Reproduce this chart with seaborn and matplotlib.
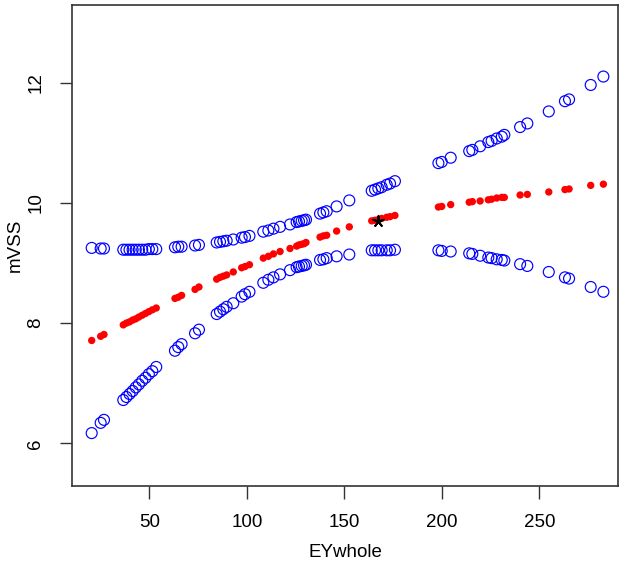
import numpy as np
import pandas as pd
import seaborn as sns
import matplotlib.pyplot as plt

# values
ey = [20.4, 25.0, 26.7, 36.6, 38.2, 39.8, 41.4, 43.0, 44.6, 46.3, 48.0, 49.7,
      51.5, 53.5, 63.1, 64.8, 66.5, 73.4, 75.4, 84.5, 86.2, 87.9, 89.6, 93.0,
      97.3, 99.0, 101.3, 108.4, 111.0, 113.6, 117.0, 122.1, 125.5, 126.7, 128.1,
      129.3, 130.3, 137.5, 139.2, 140.9, 146.0, 152.5, 164.0, 165.7, 167.4,
      169.1, 171.7, 173.4, 175.9, 198.2, 199.9, 204.5, 214.0, 215.6, 219.6,
      223.8, 225.5, 228.1, 230.7, 232.0, 240.1, 243.8, 254.8, 263.1, 265.2,
      276.3, 282.8]
lower = [6.17, 6.34, 6.39, 6.72, 6.77, 6.82, 6.87, 6.93, 6.98, 7.04, 7.09, 7.15,
         7.20, 7.27, 7.54, 7.60, 7.65, 7.83, 7.89, 8.15, 8.19, 8.23, 8.27, 8.33,
         8.44, 8.48, 8.52, 8.67, 8.72, 8.76, 8.81, 8.88, 8.93, 8.94, 8.95,
         8.96, 8.97, 9.05, 9.06, 9.08, 9.11, 9.14, 9.21, 9.21, 9.21,
         9.21, 9.21, 9.21, 9.22, 9.21, 9.20, 9.19, 9.16, 9.15, 9.12,
         9.09, 9.08, 9.06, 9.05, 9.04, 8.98, 8.95, 8.85, 8.76, 8.74,
         8.60, 8.52]
fit = [7.71, 7.78, 7.81, 7.97, 8.00, 8.02, 8.05, 8.07, 8.10, 8.13, 8.16, 8.19,
       8.22, 8.25, 8.41, 8.43, 8.46, 8.56, 8.60, 8.73, 8.76, 8.78, 8.80, 8.85,
       8.92, 8.94, 8.97, 9.08, 9.11, 9.15, 9.19, 9.24, 9.28, 9.30, 9.31,
       9.32, 9.34, 9.43, 9.45, 9.46, 9.53, 9.60, 9.70, 9.71, 9.72,
       9.74, 9.76, 9.77, 9.79, 9.93, 9.94, 9.97, 10.01, 10.02, 10.03,
       10.05, 10.06, 10.08, 10.09, 10.09, 10.13, 10.14, 10.18, 10.22, 10.23,
       10.29, 10.31]
upper = [9.25, 9.24, 9.24, 9.22, 9.22, 9.22, 9.22, 9.22, 9.22, 9.22, 9.22, 9.23,
         9.23, 9.23, 9.26, 9.27, 9.27, 9.29, 9.30, 9.34, 9.35, 9.36, 9.37, 9.39,
         9.42, 9.43, 9.45, 9.52, 9.54, 9.57, 9.60, 9.64, 9.68, 9.69, 9.70,
         9.71, 9.72, 9.82, 9.84, 9.86, 9.94, 10.04, 10.20, 10.22, 10.24,
         10.26, 10.30, 10.32, 10.36, 10.66, 10.68, 10.75, 10.86, 10.88, 10.94,
         11.01, 11.03, 11.07, 11.10, 11.13, 11.26, 11.32, 11.52, 11.69, 11.72,
         11.96, 12.10]
star_x = [167.1]
star_y = [9.70]

df = pd.DataFrame({"EYwhole": ey, "lower": lower, "fit": fit, "upper": upper})

plt.rcParams['font.family'] = ['Liberation Sans', 'DejaVu Sans']

fig = plt.figure(figsize=(6.28, 5.63), dpi=100)
ax = fig.add_axes([72 / 628, 77 / 563, 546 / 628, 481 / 563])

for col in ["upper", "lower"]:
    sns.scatterplot(data=df, x="EYwhole", y=col, ax=ax, s=62,
                    facecolors="none", edgecolor="#0000ff", linewidth=0.85)
sns.scatterplot(data=df, x="EYwhole", y="fit", ax=ax, s=28,
                color="#ff0000", edgecolor="none")
sns.scatterplot(x=star_x, y=star_y, ax=ax, s=60, marker=(5, 2, 0),
                color="black", linewidth=1.4)

ax.set_xlim(10.3, 290.3)
ax.set_ylim(5.29, 13.29)
ax.set_xticks([50, 100, 150, 200, 250])
ax.set_yticks([6, 8, 10, 12])

for s in ax.spines.values():
    s.set_visible(True)
    s.set_color("#333333")
    s.set_linewidth(1.2)
ax.tick_params(direction="out", length=9, width=1.0, color="#333333",
               labelsize=13.5, pad=11)
plt.setp(ax.get_yticklabels(), rotation=90, va="center")

ax.set_xlabel("EYwhole", fontsize=13.5, va="center")
ax.set_ylabel("mVSS", fontsize=13.5, va="center")
ax.xaxis.set_label_coords(0.5, -0.139)
ax.yaxis.set_label_coords(-0.104, 0.5)

plt.savefig("out.png", dpi=100)
